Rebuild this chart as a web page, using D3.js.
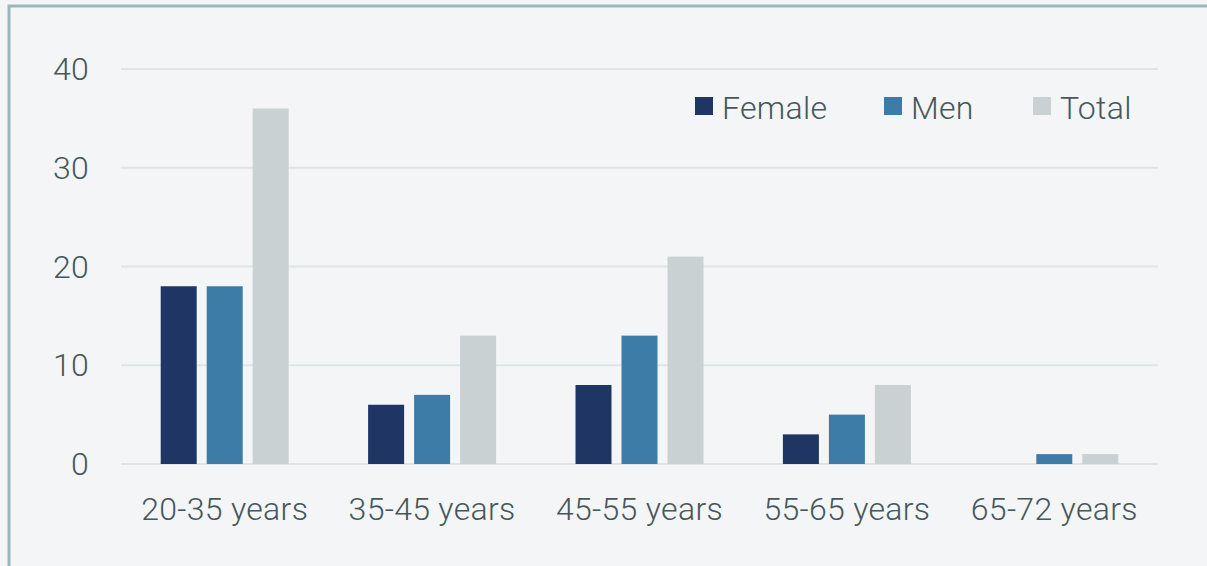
<!DOCTYPE html>
<html>
<head>
<meta charset="utf-8">
<script src="https://cdn.jsdelivr.net/npm/d3@7"></script>
<style>
  html, body { margin: 0; padding: 0; background: #f3f5f7; }
  svg text { font-family: Roboto, "Noto Sans", sans-serif; font-weight: 300; fill: #46575a; letter-spacing: 0.3px; }
</style>
</head>
<body>
<svg id="chart" width="1207" height="566"></svg>
<script>
var categories = ["20-35 years", "35-45 years", "45-55 years", "55-65 years", "65-72 years"];
var seriesNames = ["Female", "Men", "Total"];
var female = [18, 6, 8, 3, 0];
var men = [18, 7, 13, 5, 1];
var total = [36, 13, 21, 8, 1];
var yTicks = [0, 10, 20, 30, 40];
var colors = ["#1f3664", "#3e7ca8", "#c9d1d3"];

var width = 1207, height = 566;
var margin = {left: 121, right: 49, top: 69, bottom: 102};

var rows = categories.map(function(c, i) {
    return {cat: c, values: [female[i], men[i], total[i]]};
});

var svg = d3.select("#chart");

// frame
svg.append("rect")
    .attr("x", 9).attr("y", 6)
    .attr("width", 1250).attr("height", 600)
    .attr("fill", "#f3f5f7")
    .attr("stroke", "#9bb7ba")
    .attr("stroke-width", 3);

var x0 = d3.scaleBand()
    .domain(categories)
    .range([margin.left, width - margin.right]);

var x1 = d3.scaleBand()
    .domain(seriesNames)
    .range([0, 128])
    .paddingInner(10 / 46);

var y = d3.scaleLinear()
    .domain([0, 40])
    .range([height - margin.bottom, margin.top]);

// gridlines
svg.append("g")
    .selectAll("line")
    .data(yTicks)
    .join("line")
    .attr("x1", margin.left)
    .attr("x2", width - margin.right)
    .attr("y1", d => y(d))
    .attr("y2", d => y(d))
    .attr("stroke", "#dfe5e6")
    .attr("stroke-width", 2);

// y labels
svg.append("g")
    .selectAll("text")
    .data(yTicks)
    .join("text")
    .attr("x", 89)
    .attr("y", d => y(d) + 11)
    .attr("text-anchor", "end")
    .style("font-size", "32px")
    .text(d => d);

// bars
var groups = svg.append("g")
    .selectAll("g")
    .data(rows)
    .join("g")
    .attr("transform", d => "translate(" + (x0(d.cat) + (x0.bandwidth() - 128) / 2) + ",0)");

groups.selectAll("rect")
    .data(d => d.values.map((v, i) => ({name: seriesNames[i], value: v, i: i})))
    .join("rect")
    .attr("x", d => x1(d.name))
    .attr("width", x1.bandwidth())
    .attr("y", d => y(d.value))
    .attr("height", d => y(0) - y(d.value))
    .attr("fill", d => colors[d.i]);

// x labels
svg.append("g")
    .selectAll("text")
    .data(categories)
    .join("text")
    .attr("x", d => x0(d) + x0.bandwidth() / 2)
    .attr("y", 520)
    .attr("text-anchor", "middle")
    .style("font-size", "32px")
    .text(d => d);

// legend
var legendX = [695, 884, 1033];
var legend = svg.append("g")
    .selectAll("g")
    .data(seriesNames)
    .join("g")
    .attr("transform", (d, i) => "translate(" + legendX[i] + ",97)");

legend.append("rect")
    .attr("width", 18).attr("height", 18)
    .attr("fill", (d, i) => colors[i]);

legend.append("text")
    .attr("x", 27)
    .attr("y", 22)
    .style("font-size", "32px")
    .text(d => d);
</script>
</body>
</html>
